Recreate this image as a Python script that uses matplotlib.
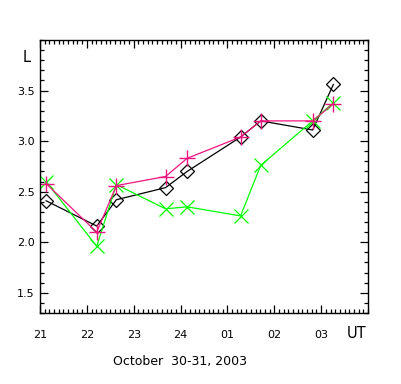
import matplotlib
matplotlib.use("Agg")
import matplotlib.pyplot as plt
from matplotlib.ticker import MultipleLocator

# hours since 00 UT Oct 30 (21 -> 21:00 on Oct 30, 25 -> 01 UT Oct 31)
hours = [21.13, 22.21, 22.63, 23.68, 24.14, 25.28, 25.71, 26.82, 27.26]

l_black = [2.41, 2.16, 2.42, 2.54, 2.70, 3.04, 3.20, 3.11, 3.56]
l_magenta = [2.58, 2.10, 2.56, 2.65, 2.83, 3.04, 3.20, 3.20, 3.37]
l_green = [2.60, 1.96, 2.57, 2.33, 2.35, 2.26, 2.76, 3.20, 3.38]

tick_pos = [21, 22, 23, 24, 25, 26, 27]
tick_lab = ["21", "22", "23", "24", "01", "02", "03"]

fig = plt.figure(figsize=(4.01, 3.84), dpi=100)
ax = fig.add_axes([40 / 401, 1 - 313 / 384, 328 / 401, 273 / 384])

ax.plot(hours, l_black, color="black", lw=0.9, marker="D", ms=7.5,
        mfc="none", mec="black", mew=0.9)
ax.plot(hours, l_green, color="#00ff00", lw=0.9, marker="x", ms=10,
        mec="#00ff00", mew=0.9)
ax.plot(hours, l_magenta, color="#f0147f", lw=0.9, marker="+", ms=11,
        mec="#f0147f", mew=1.0)

ax.set_xlim(21, 28)
ax.set_ylim(1.3, 4.0)
ax.set_xticks(tick_pos)
ax.set_xticklabels(tick_lab)
ax.set_yticks([1.5, 2.0, 2.5, 3.0, 3.5])
ax.set_yticklabels(["1.5", "2.0", "2.5", "3.0", "3.5"])
ax.xaxis.set_minor_locator(MultipleLocator(0.1))
ax.yaxis.set_minor_locator(MultipleLocator(0.1))
ax.tick_params(which="both", direction="in", top=True, right=True,
               width=0.9, labelsize=8)
ax.tick_params(which="major", length=6)
ax.tick_params(which="minor", length=3)
ax.tick_params(axis="x", which="major", pad=12)
ax.tick_params(axis="y", which="major", pad=4)
for s in ax.spines.values():
    s.set_linewidth(1.0)

fig.text(27 / 401, 1 - 57 / 384, "L", fontsize=10.5, ha="center", va="center")
fig.text(357 / 401, 1 - 333 / 384, "UT", fontsize=10.5, ha="center", va="center")
fig.text(180 / 401, 1 - 361 / 384, "October  30-31, 2003", fontsize=9,
         ha="center", va="center")

fig.savefig("out.png", dpi=100)
